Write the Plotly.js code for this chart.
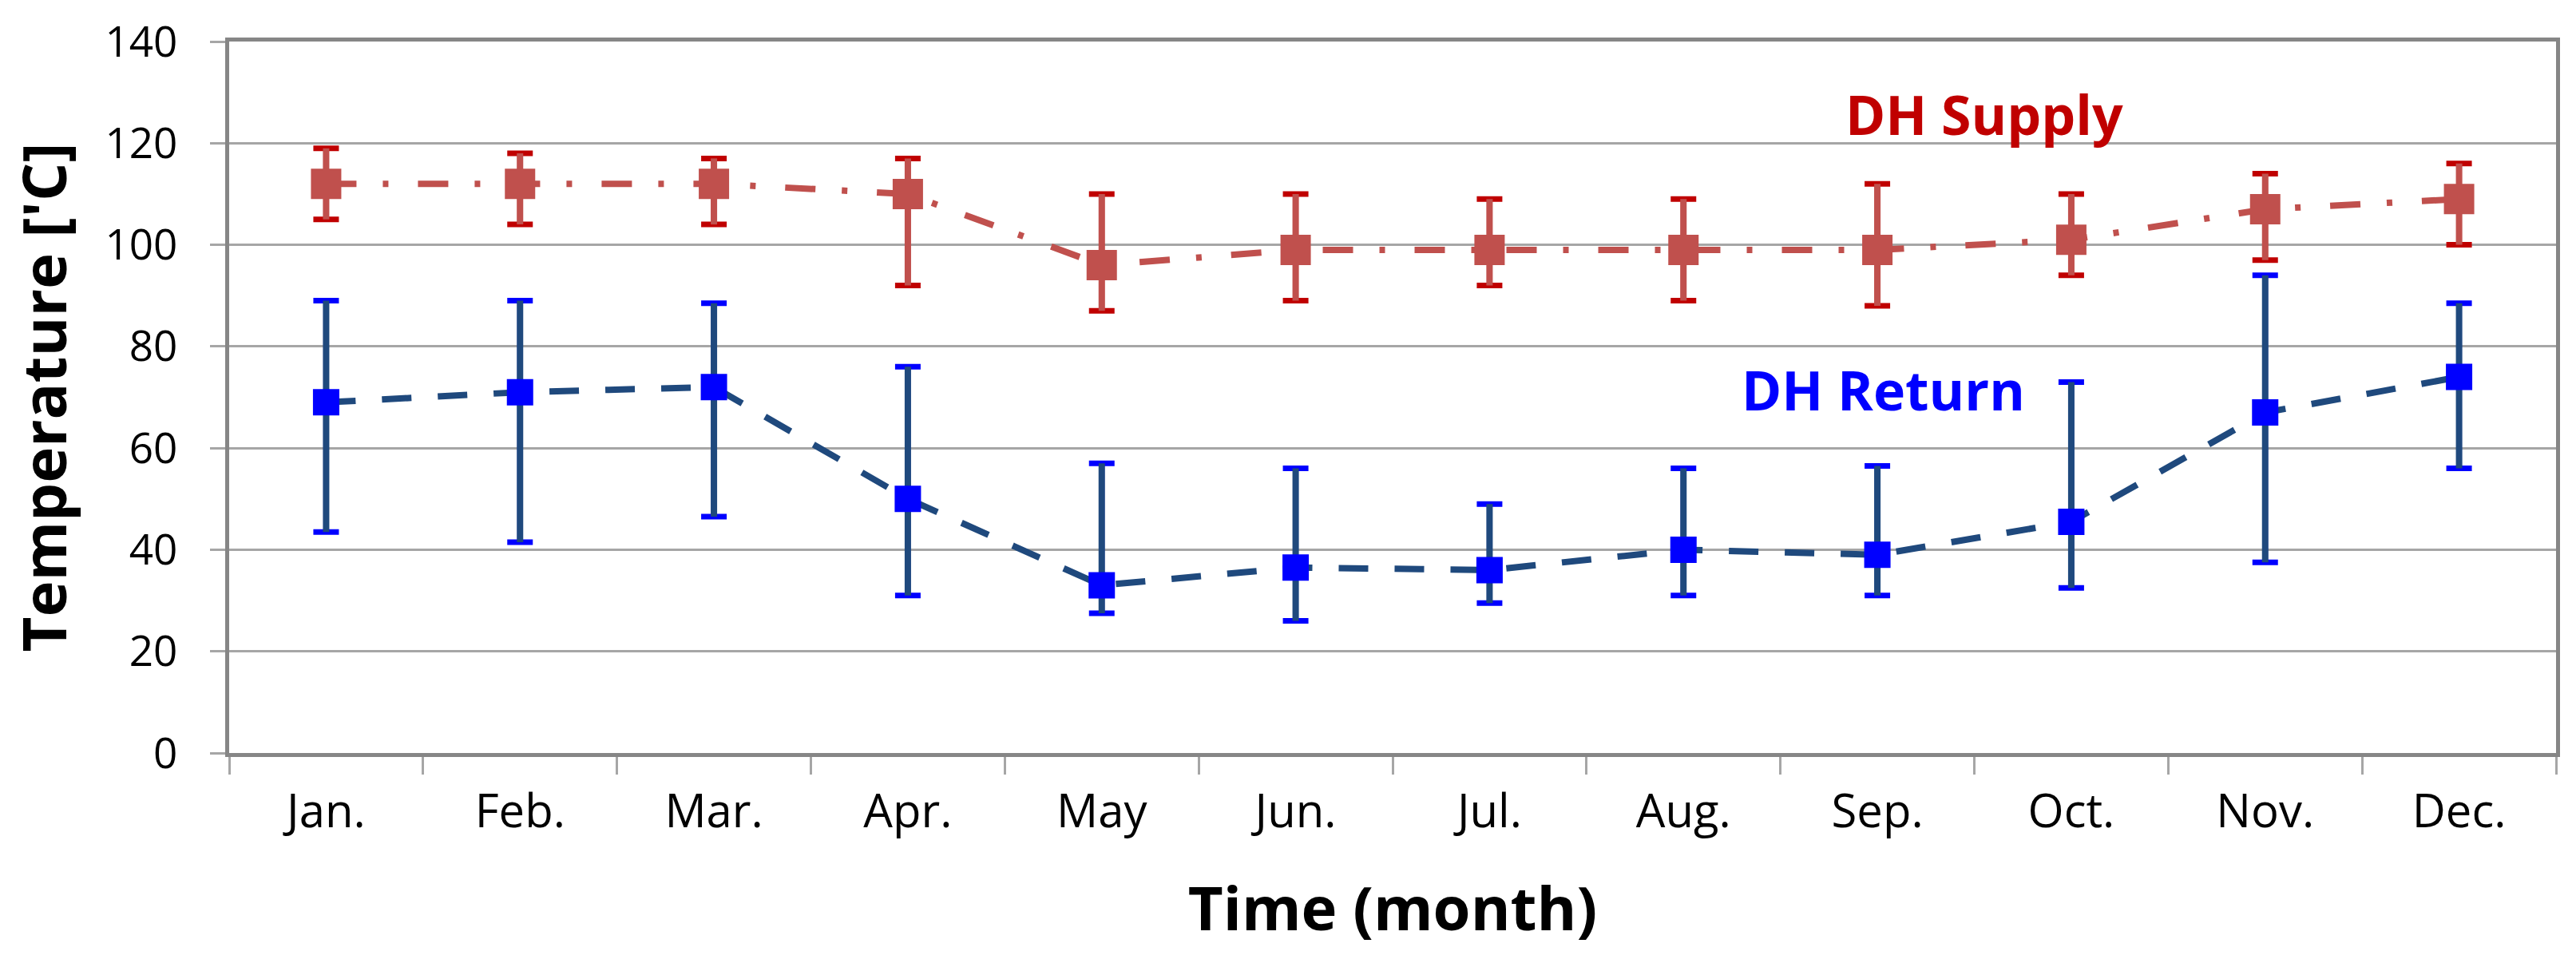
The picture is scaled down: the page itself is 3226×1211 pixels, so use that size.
<!DOCTYPE html>
<html>
<head>
<meta charset="utf-8">
<script src="https://cdn.plot.ly/plotly-3.0.1.min.js"></script>
<style>
  html, body { margin: 0; padding: 0; background: #fff; }
  #plot { width: 3226px; height: 1211px; }
</style>
</head>
<body>
<div id="plot"></div>
<script>
var months = ['Jan.', 'Feb.', 'Mar.', 'Apr.', 'May', 'Jun.', 'Jul.', 'Aug.', 'Sep.', 'Oct.', 'Nov.', 'Dec.'];

// DH supply temperature, mean with min / max
var supplyMean = [112, 112, 112, 110, 96, 99, 99, 99, 99, 101, 107, 109];
var supplyHigh = [119, 118, 117, 117, 110, 110, 109, 109, 112, 110, 114, 116];
var supplyLow  = [105, 104, 104, 92, 87, 89, 92, 89, 88, 94, 97, 100];

// DH return temperature, mean with min / max
var returnMean = [69, 71, 72, 50, 33, 36.5, 36, 40, 39, 45.5, 67, 74];
var returnHigh = [89, 89, 88.5, 76, 57, 56, 49, 56, 56.5, 73, 94, 88.5];
var returnLow  = [43.5, 41.5, 46.5, 31, 27.5, 26, 29.5, 31, 31, 32.5, 37.5, 56];

var yTicks = [0, 20, 40, 60, 80, 100, 120, 140];

var FONT = 'Open Sans, Noto Sans, sans-serif';

function upper(mean, high) {
  return mean.map(function(v, i) { return high[i] - v; });
}
function lower(mean, low) {
  return mean.map(function(v, i) { return v - low[i]; });
}

// caps are a brighter colour than the stems, so each series gets a caps-only layer first
function capsTrace(mean, high, low, color) {
  return {
    x: months,
    y: mean,
    type: 'scatter',
    mode: 'markers',
    marker: { size: 1, opacity: 0 },
    error_y: {
      type: 'data',
      symmetric: false,
      array: upper(mean, high),
      arrayminus: lower(mean, low),
      color: color,
      thickness: 7,
      width: 16
    },
    hoverinfo: 'skip',
    showlegend: false
  };
}

function mainTrace(name, mean, high, low, lineColor, dash, stemColor, markerColor, markerSize) {
  return {
    name: name,
    x: months,
    y: mean,
    type: 'scatter',
    mode: 'lines+markers',
    line: { color: lineColor, width: 8, dash: dash },
    marker: { symbol: 'square', size: markerSize, color: markerColor },
    error_y: {
      type: 'data',
      symmetric: false,
      array: upper(mean, high),
      arrayminus: lower(mean, low),
      color: stemColor,
      thickness: 8,
      width: 0
    },
    showlegend: false
  };
}

var data = [
  capsTrace(returnMean, returnHigh, returnLow, '#0000FF'),
  mainTrace('DH Return', returnMean, returnHigh, returnLow, '#1F497D', '37px,33px', '#1F497D', '#0000FF', 33),
  capsTrace(supplyMean, supplyHigh, supplyLow, '#C00000'),
  mainTrace('DH Supply', supplyMean, supplyHigh, supplyLow, '#C0504D', '38px,33px,7px,37px', '#C0504D', '#C0504D', 38)
];

var layout = {
  width: 3226,
  height: 1211,
  margin: { l: 287, r: 25, t: 52, b: 268 },
  paper_bgcolor: '#ffffff',
  plot_bgcolor: '#ffffff',
  showlegend: false,
  font: { family: FONT, color: '#000000' },
  xaxis: {
    type: 'category',
    range: [-0.5, months.length - 0.5],
    tickson: 'boundaries',
    ticks: 'outside',
    ticklen: 22,
    tickwidth: 3,
    tickcolor: '#A6A6A6',
    showgrid: false,
    showline: true,
    linecolor: '#868686',
    linewidth: 5,
    mirror: true,
    tickfont: { family: FONT, size: 58, color: '#000000' },
    ticklabelstandoff: 18,
    title: {
      text: '<b>Time (month)</b>',
      font: { family: FONT, size: 76, color: '#000000' },
      standoff: 62
    },
    automargin: false
  },
  yaxis: {
    range: [0, 140],
    tickvals: yTicks,
    ticks: 'outside',
    ticklen: 19,
    tickwidth: 3,
    tickcolor: '#A6A6A6',
    showgrid: true,
    gridcolor: '#A6A6A6',
    gridwidth: 3,
    zeroline: false,
    showline: true,
    linecolor: '#868686',
    linewidth: 5,
    mirror: true,
    tickfont: { family: FONT, size: 53, color: '#000000' },
    ticklabelstandoff: 30,
    title: {
      text: "<b>Temperature ['C]</b>",
      font: { family: FONT, size: 76, color: '#000000' },
      standoff: 24
    },
    automargin: false
  },
  annotations: [
    {
      xref: 'x', yref: 'y',
      x: 8.55, y: 125.8,
      text: '<b>DH Supply</b>',
      showarrow: false,
      font: { family: FONT, size: 68, color: '#C00000' },
      xanchor: 'center', yanchor: 'middle'
    },
    {
      xref: 'x', yref: 'y',
      x: 8.03, y: 71.6,
      text: '<b>DH Return</b>',
      showarrow: false,
      font: { family: FONT, size: 68, color: '#0000FF' },
      xanchor: 'center', yanchor: 'middle'
    }
  ]
};

var config = { staticPlot: true, displayModeBar: false };

Plotly.newPlot(document.getElementById('plot'), data, layout, config);
</script>
</body>
</html>
